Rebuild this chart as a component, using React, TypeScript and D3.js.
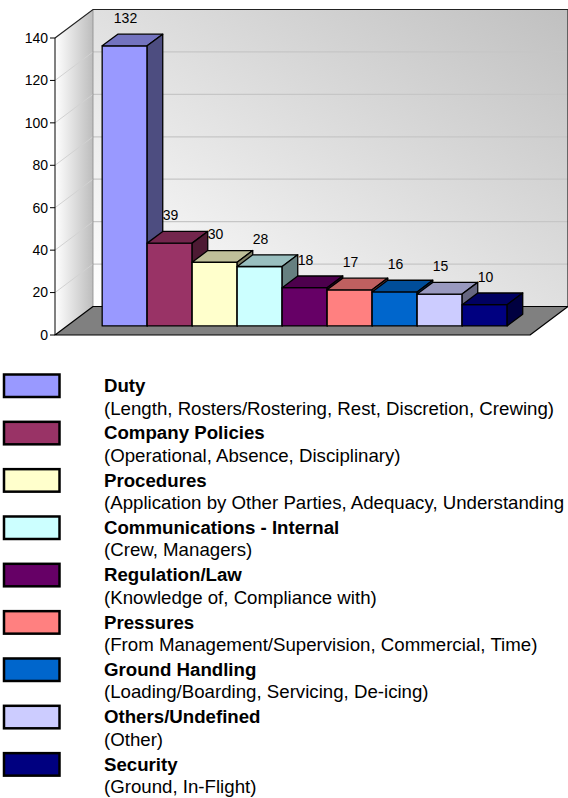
import React, { useEffect, useRef } from 'react';
import * as d3 from 'd3';

// chart data
const categories = [
  'Duty',
  'Company Policies',
  'Procedures',
  'Communications - Internal',
  'Regulation/Law',
  'Pressures',
  'Ground Handling',
  'Others/Undefined',
  'Security',
];
const details = [
  '(Length, Rosters/Rostering, Rest, Discretion, Crewing)',
  '(Operational, Absence, Disciplinary)',
  '(Application by Other Parties, Adequacy, Understanding',
  '(Crew, Managers)',
  '(Knowledge of, Compliance with)',
  '(From Management/Supervision, Commercial, Time)',
  '(Loading/Boarding, Servicing, De-icing)',
  '(Other)',
  '(Ground, In-Flight)',
];
const counts = [132, 39, 30, 28, 18, 17, 16, 15, 10];
const colors = ['#9999FF', '#993366', '#FFFFCC', '#CCFFFF', '#660066', '#FF8080', '#0066CC', '#CCCCFF', '#000080'];
const yTicks = [0, 20, 40, 60, 80, 100, 120, 140];

const W = 568;
const H = 798;
const FONT = 'Arial, "Liberation Sans", Helvetica, sans-serif';

const App: React.FC = () => {
  const ref = useRef<SVGSVGElement>(null);

  useEffect(() => {
    if (!ref.current) return;
    const svg = d3.select(ref.current);
    svg.selectAll('*').remove();

    // 3d depth of the plot box
    const DX = 38;
    const DY = 28.5;
    const x0 = 55;
    const x1 = 530;

    const y = d3.scaleLinear().domain([0, 140]).range([335, 38]);
    const x = d3.scaleBand<string>().domain(categories).range([x0, x1]).paddingInner(0).paddingOuter(0.778);

    const proj = (px: number, v: number, depth: number): [number, number] => [px + depth * DX, y(v) - depth * DY];
    const poly = (pts: [number, number][]) => pts.map((p) => p.join(',')).join(' ');

    const defs = svg.append('defs');
    const backGrad = defs.append('linearGradient').attr('id', 'backWall').attr('x1', 1).attr('y1', 0).attr('x2', 0).attr('y2', 1);
    backGrad.append('stop').attr('offset', '0%').attr('stop-color', '#c0c0c0');
    backGrad.append('stop').attr('offset', '100%').attr('stop-color', '#ffffff');
    const sideGrad = defs.append('linearGradient').attr('id', 'sideWall').attr('x1', 0).attr('y1', 0).attr('x2', 1).attr('y2', 0);
    sideGrad.append('stop').attr('offset', '0%').attr('stop-color', '#ffffff');
    sideGrad.append('stop').attr('offset', '100%').attr('stop-color', '#bdbdbd');

    // back wall
    svg
      .append('polygon')
      .attr('points', poly([proj(x0, 0, 1), proj(x0, 140, 1), proj(x1, 140, 1), proj(x1, 0, 1)]))
      .attr('fill', 'url(#backWall)');
    // side wall
    svg
      .append('polygon')
      .attr('points', poly([proj(x0, 0, 0), proj(x0, 140, 0), proj(x0, 140, 1), proj(x0, 0, 1)]))
      .attr('fill', 'url(#sideWall)');

    // gridlines
    yTicks.slice(1, -1).forEach((t) => {
      const a = proj(x0, t, 0);
      const b = proj(x0, t, 1);
      const c = proj(x1, t, 1);
      svg.append('line').attr('x1', a[0]).attr('y1', a[1]).attr('x2', b[0]).attr('y2', b[1]).attr('stroke', '#d2d2d2').attr('stroke-width', 1);
      svg.append('line').attr('x1', b[0]).attr('y1', b[1]).attr('x2', c[0]).attr('y2', c[1]).attr('stroke', '#c6c6c6').attr('stroke-width', 1.2);
    });

    // wall edges
    const bTop = proj(x0, 140, 1);
    const bBot = proj(x0, 0, 1);
    svg.append('line').attr('x1', bTop[0]).attr('y1', bTop[1]).attr('x2', bBot[0]).attr('y2', bBot[1]).attr('stroke', '#8a8a8a').attr('stroke-width', 0.8);
    svg
      .append('polyline')
      .attr('points', poly([proj(x0, 140, 0), proj(x0, 140, 1), proj(x1, 140, 1), proj(x1, 0, 1)]))
      .attr('fill', 'none')
      .attr('stroke', '#222')
      .attr('stroke-width', 1.2);

    // floor
    svg
      .append('polygon')
      .attr('points', poly([proj(x0, 0, 0), proj(x1, 0, 0), proj(x1, 0, 1), proj(x0, 0, 1)]))
      .attr('fill', '#808080')
      .attr('stroke', '#000')
      .attr('stroke-width', 1.2)
      .attr('stroke-linejoin', 'round');

    // y axis
    svg.append('line').attr('x1', x0).attr('y1', y(0)).attr('x2', x0).attr('y2', y(140)).attr('stroke', '#000').attr('stroke-width', 1);
    const ax = svg.append('g');
    yTicks.forEach((t) => {
      ax.append('line').attr('x1', x0 - 5).attr('x2', x0).attr('y1', y(t)).attr('y2', y(t)).attr('stroke', '#000');
      ax.append('text')
        .attr('x', x0 - 7)
        .attr('y', y(t))
        .attr('dy', '0.35em')
        .attr('text-anchor', 'end')
        .attr('font-family', FONT)
        .attr('font-size', 14)
        .attr('fill', '#000')
        .text(t);
    });

    // bars
    const dFront = 0.32;
    const dBack = 0.73;
    const bw = x.bandwidth();
    categories.forEach((cat, i) => {
      const v = counts[i];
      const xl = x(cat) as number;
      const xr = xl + bw;
      const base = d3.color(colors[i]) as d3.RGBColor;
      const top = d3.rgb(base.r * 0.75, base.g * 0.75, base.b * 0.75).toString();
      const side = d3.rgb(base.r * 0.5, base.g * 0.5, base.b * 0.5).toString();
      const g = svg.append('g').attr('stroke', '#000').attr('stroke-width', 1.3).attr('stroke-linejoin', 'round');
      g.append('polygon')
        .attr('points', poly([proj(xl, 0, dFront), proj(xl, v, dFront), proj(xr, v, dFront), proj(xr, 0, dFront)]))
        .attr('fill', colors[i]);
      g.append('polygon')
        .attr('points', poly([proj(xl, v, dFront), proj(xl, v, dBack), proj(xr, v, dBack), proj(xr, v, dFront)]))
        .attr('fill', top);
      g.append('polygon')
        .attr('points', poly([proj(xr, 0, dFront), proj(xr, v, dFront), proj(xr, v, dBack), proj(xr, 0, dBack)]))
        .attr('fill', side);
    });

    // value labels
    categories.forEach((cat, i) => {
      const v = counts[i];
      const cx = (x(cat) as number) + bw / 2 + 13;
      svg
        .append('text')
        .attr('x', cx)
        .attr('y', y(v) - 32)
        .attr('text-anchor', 'middle')
        .attr('font-family', FONT)
        .attr('font-size', 14)
        .attr('fill', '#000')
        .text(v);
    });

    // legend
    const leg = svg.append('g');
    const rowH = 47.33;
    categories.forEach((cat, i) => {
      const top = 374.5 + i * rowH;
      leg.append('rect')
        .attr('x', 4)
        .attr('y', top)
        .attr('width', 55.5)
        .attr('height', 22.5)
        .attr('fill', colors[i])
        .attr('stroke', '#000')
        .attr('stroke-width', 2.5);
      leg.append('text')
        .attr('x', 104)
        .attr('y', top + 17.5)
        .attr('font-family', FONT)
        .attr('font-size', 18.67)
        .attr('font-weight', 'bold')
        .attr('fill', '#000')
        .text(cat);
      leg.append('text')
        .attr('x', 104)
        .attr('y', top + 40)
        .attr('font-family', FONT)
        .attr('font-size', 18.67)
        .attr('fill', '#000')
        .text(details[i]);
    });
  }, []);

  return <svg ref={ref} width={W} height={H} style={{ position: 'absolute', left: 0, top: 0, background: '#fff' }} />;
};

export default App;
